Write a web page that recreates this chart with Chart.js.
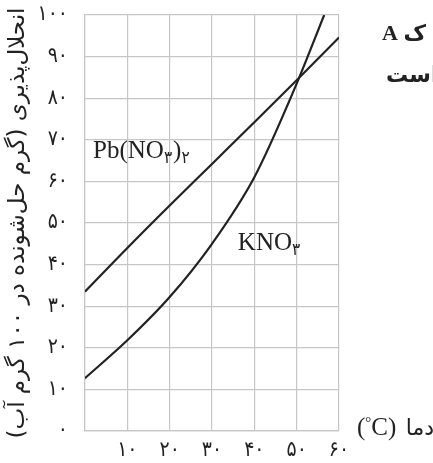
<!DOCTYPE html>
<html>
<head>
<meta charset="utf-8">
<script src="https://cdn.jsdelivr.net/npm/chart.js@4"></script>
<style>
  body { margin: 0; background: #fff; overflow: hidden; }
  #wrap { position: relative; width: 433px; height: 463px; }
  .frag { position: absolute; white-space: nowrap; font-weight: bold; color: #222;
          font-family: "Liberation Serif", "DejaVu Sans", serif; font-size: 22px; }
</style>
</head>
<body>
<div id="wrap">
  <canvas id="chart"></canvas>
  <div class="frag" dir="rtl" style="left:382px; top:20px;">ک A</div>
  <div class="frag" dir="rtl" style="left:386px; top:62px;">است</div>
</div>
<script>
// temperature (°C) and solubility (g per 100 g water)
const pbTemps = [0, 10, 20, 30, 40, 50, 60];
const pbValues = [33.5, 44, 54.2, 64.2, 74.2, 84.3, 94.6];
const kTemps = [0, 10, 20, 30, 40, 50, 56.5];
const kValues = [12.7, 21.8, 32.2, 45, 61, 83.5, 100];

const yTitle = 'انحلال‌پذیری (گرم حل‌شونده در ۱۰۰ گرم آب)';
const xTitle = 'دما';

const fa = s => String(s).replace(/\d/g, d => '۰۱۲۳۴۵۶۷۸۹'[d]);
const gridColor = '#c6c6c6';
const ink = '#222';
const faFont = '"DejaVu Sans Condensed", "DejaVu Sans"';

// curve labels, extra text
const labelsPlugin = {
  id: 'labels',
  afterDraw(chart) {
    const ctx = chart.ctx;
    const xs = chart.scales.x, ys = chart.scales.y;
    const area = chart.chartArea;
    ctx.save();
    ctx.fillStyle = ink;
    ctx.textBaseline = 'alphabetic';
    ctx.textAlign = 'left';

    function formula(parts, x, y) {
      let px = x;
      parts.forEach(p => {
        ctx.font = p.sub ? '17px ' + faFont : '25px "Liberation Serif"';
        ctx.fillText(p.t, px, y + (p.sub ? 5 : 0));
        px += ctx.measureText(p.t).width + (p.sub ? 1 : 0);
      });
    }
    formula([{t: 'Pb(NO'}, {t: '۳', sub: true}, {t: ')'}, {t: '۲', sub: true}],
      xs.getPixelForValue(1.9), ys.getPixelForValue(65.6));
    formula([{t: 'KNO'}, {t: '۳', sub: true}],
      xs.getPixelForValue(36.1), ys.getPixelForValue(43.5));

    // x axis title to the right of the plot
    const ty = area.bottom + 4;
    ctx.font = '25px "Liberation Serif"';
    ctx.fillText('(', area.right + 18, ty);
    let cx = area.right + 18 + ctx.measureText('(').width;
    ctx.font = '15px "Liberation Serif"';
    ctx.fillText('°', cx, ty - 8);
    cx += ctx.measureText('°').width;
    ctx.font = '25px "Liberation Serif"';
    ctx.fillText('C)', cx, ty);
    ctx.font = '22px "DejaVu Sans"';
    ctx.textAlign = 'right';
    ctx.fillText(xTitle, area.right + 95, ty);
    ctx.restore();
  }
};

const ctx = document.getElementById('chart').getContext('2d');
new Chart(ctx, {
  type: 'line',
  data: {
    datasets: [{
      label: 'Pb(NO3)2',
      data: pbTemps.map((t, i) => ({x: t, y: pbValues[i]})),
      borderColor: ink,
      borderWidth: 2.2,
      pointRadius: 0,
      cubicInterpolationMode: 'monotone'
    }, {
      label: 'KNO3',
      data: kTemps.map((t, i) => ({x: t, y: kValues[i]})),
      borderColor: ink,
      borderWidth: 2.2,
      pointRadius: 0,
      cubicInterpolationMode: 'monotone'
    }]
  },
  options: {
    responsive: true,
    maintainAspectRatio: false,
    animation: false,
    layout: { padding: { top: 15, right: 94, left: 0, bottom: 0 } },
    plugins: { legend: { display: false }, tooltip: { enabled: false } },
    scales: {
      x: {
        type: 'linear',
        min: 0, max: 60,
        afterFit: s => { s.height = 32; },
        grid: { color: gridColor, lineWidth: 1.2, drawTicks: false },
        border: { color: gridColor, width: 1.2 },
        ticks: {
          stepSize: 10, padding: 7, color: ink, maxRotation: 0,
          font: { family: faFont, size: 21 },
          callback: v => v === 0 ? '' : fa(v)
        }
      },
      y: {
        min: 0, max: 100,
        // keep the plot top at the layout padding
        afterFit: s => { s.width = 85; s.paddingTop = 0; s.paddingBottom = 0; },
        grid: { color: gridColor, lineWidth: 1.2, drawTicks: false },
        border: { color: gridColor, width: 1.2 },
        ticks: {
          stepSize: 10, padding: 17, color: ink,
          font: { family: faFont, size: 21 },
          callback: v => fa(v)
        },
        title: {
          display: true,
          text: '\u202B' + yTitle + '\u202C',
          color: ink,
          font: { family: 'DejaVu Sans', size: 23 },
          padding: { top: 4, bottom: 0 }
        }
      }
    }
  },
  plugins: [labelsPlugin]
});
</script>
</body>
</html>
